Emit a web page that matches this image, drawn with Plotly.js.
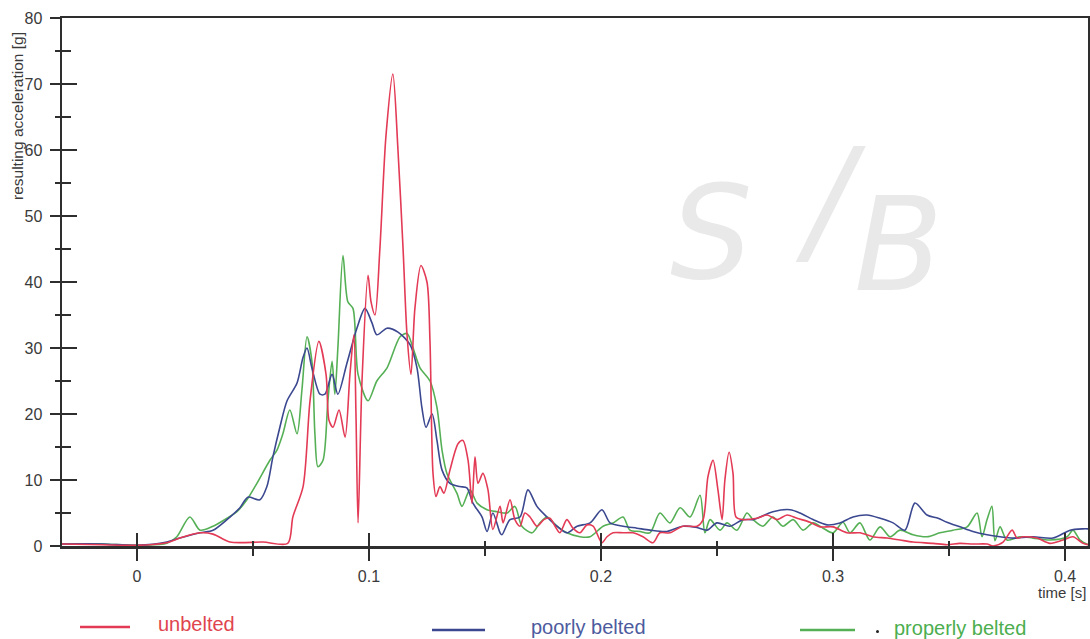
<!DOCTYPE html>
<html>
<head>
<meta charset="utf-8">
<script src="https://cdn.plot.ly/plotly-3.0.1.min.js"></script>
<style>
html,body{margin:0;padding:0;background:#fff;}
#chart{width:1090px;height:639px;}
</style>
</head>
<body>
<div id="chart"></div>
<script>
// ---- data (time in s, resulting acceleration in g) ----
const seriesNames = ["unbelted", "poorly belted", "properly belted"];
const seriesColors = ["#e33a55", "#3b4890", "#55b055"];
const legendTextColors = ["#e0454f", "#4d5b9e", "#4cae4f"];

const tUnbelted = [-0.0323,-0.015,0,0.0129,0.0185,0.0272,0.0328,0.0401,0.0543,0.065,0.0672,0.0716,0.0746,0.0784,0.0815,0.0828,0.0845,0.0871,0.0897,0.0918,0.0935,0.0944,0.0953,0.097,0.0996,0.1009,0.1026,0.1047,0.1073,0.1103,0.1125,0.1147,0.1164,0.1181,0.1198,0.1224,0.125,0.1263,0.1276,0.1289,0.1306,0.1323,0.1349,0.1384,0.1405,0.1427,0.1444,0.1457,0.147,0.1491,0.1513,0.1534,0.1565,0.1578,0.1608,0.1629,0.1651,0.1672,0.1694,0.1724,0.1754,0.178,0.1802,0.1823,0.1853,0.1879,0.1909,0.194,0.1966,0.2004,0.2026,0.2052,0.2095,0.2138,0.2181,0.2224,0.2254,0.2297,0.2353,0.2414,0.244,0.2461,0.2483,0.2504,0.2522,0.2534,0.2552,0.2569,0.2582,0.2612,0.2672,0.2716,0.2759,0.2802,0.2845,0.2901,0.2944,0.3,0.306,0.3116,0.3172,0.3233,0.3289,0.3345,0.3431,0.3491,0.3547,0.3603,0.3664,0.369,0.3733,0.3772,0.3793,0.3819,0.3879,0.3935,0.3991,0.4034,0.4078,0.4099];
const gUnbelted = [0.3,0.2,0.1,0.5,1.2,2,1.8,0.6,0.6,0.4,4.4,9,22,31,26,19,18,20.6,16.5,26,32,20,3.5,25,41,37,35,45,62,71.5,60,45,32,26,36,42.5,40,31,11,7.5,9,8,11.5,15.5,16,13,6.5,13.5,9.5,11,8.5,2.5,6,3.5,7,4,3,5,4.4,3,4,4.2,3,2,4,2.7,2,3.2,3,0.5,1.4,2,2,2,1.4,0.5,2,2,3,3,4,10.5,13,8.5,4,10,14.2,11,4.4,4,4.2,4.7,4,4.7,4.2,3.6,2.9,2.9,2,2,1.4,1.2,0.9,0.6,0.4,0.2,0.4,0.3,0.3,0,0.6,2.4,1.2,1.4,1.2,0.4,0.9,1.4,0.4,0.2];

const tPoorly = [-0.0323,-0.015,0,0.0129,0.0185,0.0272,0.0328,0.0388,0.0444,0.0478,0.053,0.056,0.0586,0.0616,0.0647,0.069,0.0716,0.0733,0.0754,0.0789,0.081,0.0841,0.0866,0.0905,0.0948,0.0983,0.1013,0.1034,0.1078,0.1125,0.1177,0.1207,0.1228,0.1246,0.1272,0.1293,0.1315,0.1349,0.1392,0.1422,0.1448,0.1487,0.1509,0.1534,0.1565,0.1573,0.1608,0.1651,0.1685,0.1724,0.1767,0.181,0.1853,0.1897,0.1953,0.2004,0.2039,0.2095,0.2155,0.2211,0.2284,0.2353,0.2414,0.2457,0.25,0.2556,0.2612,0.2655,0.2741,0.2815,0.2858,0.2914,0.2974,0.303,0.3086,0.3147,0.3203,0.3259,0.331,0.3353,0.3405,0.3453,0.3491,0.3547,0.3603,0.3664,0.372,0.3776,0.3862,0.3948,0.4022,0.4078,0.4099];
const gPoorly = [0.3,0.3,0.1,0.6,1.2,2,2.4,4,5.8,7.4,7,9,13.5,18,22,24.7,28.6,30,27,23,23,26,23,27.7,33,36,33.8,32,33,32.4,30.5,27,21,18,20,16,11.5,9.5,9,8.8,6.5,4.4,2.2,5,2,1.7,4,4.4,8.5,6,4.4,3,2,3,3.5,5.5,3.5,3,2.7,2.4,2.2,3,2.8,2.4,3.5,3,4,4,5.2,5.5,5,4,3.2,3.5,4.4,4.7,4.2,3.5,2.4,6.5,4.7,4.2,3.6,2.9,2.2,1.7,1.4,1.2,1.4,1.2,2.4,2.6,2.6];

const tProperly = [-0.0323,-0.015,0,0.0129,0.0172,0.0228,0.0272,0.0328,0.0388,0.0431,0.0474,0.0517,0.0573,0.0603,0.0629,0.0659,0.069,0.0711,0.0733,0.0754,0.0767,0.078,0.0802,0.0823,0.0841,0.0853,0.0866,0.0888,0.0909,0.0931,0.0953,0.0996,0.1034,0.1078,0.1134,0.1164,0.119,0.122,0.1263,0.1293,0.1315,0.1336,0.1379,0.1401,0.1435,0.1466,0.1509,0.1552,0.1595,0.1629,0.1659,0.1703,0.1737,0.1767,0.181,0.1853,0.1909,0.1953,0.2009,0.2052,0.2095,0.2125,0.2168,0.2211,0.2254,0.2297,0.2341,0.2384,0.2427,0.2448,0.247,0.2513,0.2543,0.2586,0.2629,0.2655,0.2698,0.2741,0.2784,0.2828,0.2871,0.2914,0.2957,0.3,0.3043,0.3073,0.3116,0.3159,0.3203,0.3246,0.3289,0.3345,0.3405,0.3461,0.3517,0.3578,0.3621,0.3642,0.3664,0.3685,0.3698,0.372,0.375,0.3806,0.3862,0.3935,0.4009,0.4034,0.4065,0.4099];
const gProperly = [0.3,0.3,0.1,0.4,1.4,4.4,2.4,3,4.2,5.2,7,9.5,13,14.5,17,20.6,17,23.6,31.7,28,17,12,13,22,28,23,30,44,37,36,26,22,25,27,31.7,32.2,30,27,25,21,14.5,11,8,6,8.5,6.5,5.5,5.2,5,6,3,2,3.5,4.4,3,2,1.4,1.4,3,3.5,4.4,2.4,2.2,2,5,3.5,5.8,4.4,7.7,2,4,2.4,3.5,2.4,5,4,3,4.4,3,4,2.4,3.5,2.7,2,3.6,2,3.5,0.9,2.9,1.4,2.4,1.7,1.4,2,2.4,2.9,5,1.4,4,6,0.8,2.9,0.9,1.4,1.2,0.9,1.4,2.4,0.9,0.2];

const xTickVals = [0, 0.1, 0.2, 0.3, 0.4];
const xTickText = ["0", "0.1", "0.2", "0.3", "0.4"];
const yTickVals = [0, 10, 20, 30, 40, 50, 60, 70, 80];
const xTitle = "time [s]";
const yTitle = "resulting acceleration [g]";
const logoParts = ["S", "/", "B"];

// ---- layout geometry ----
const W = 1090, H = 639;
const M = {l: 62, r: 2, t: 18, b: 93};
const plotW = W - M.l - M.r, plotH = H - M.t - M.b;
const px = x => (x - M.l) / plotW;           // pixel -> paper x
const py = y => (H - M.b - y) / plotH;        // pixel -> paper y
const xRange = [-0.0323, 0.4099];
const yRange = [0, 80];

const tArr = [tUnbelted, tPoorly, tProperly];
const gArr = [gUnbelted, gPoorly, gProperly];

const traces = tArr.map((t, i) => ({
  type: "scatter", mode: "lines", x: t, y: gArr[i], name: seriesNames[i],
  line: {color: seriesColors[i], width: 1.6, shape: "spline", smoothing: 0.8},
  hoverinfo: "x+y+name"
}));
const ordered = [traces[2], traces[1], traces[0]];
// helper trace so the overlay axes (inner tick halves) are drawn
ordered.push({type: "scatter", mode: "lines", x: [], y: [], xaxis: "x2", yaxis: "y2", showlegend: false, hoverinfo: "skip"});

const axisColor = "#2e2e2e";
const FONT = "Liberation Sans, Arial, sans-serif";
const tickFont = {family: FONT, size: 16, color: "#3a3a3a"};

// legend built from the series names
const legendLine = [[80, 130, 627], [432, 485, 630], [800, 855, 630]];
const legendText = [[156, 624], [529, 627], [892, 628]];
const shapes = [];
const annotations = [];
seriesNames.forEach((n, i) => {
  shapes.push({type: "line", xref: "paper", yref: "paper",
    x0: px(legendLine[i][0]), x1: px(legendLine[i][1]),
    y0: py(legendLine[i][2]), y1: py(legendLine[i][2]),
    line: {color: seriesColors[i], width: 2.5}});
  annotations.push({xref: "paper", yref: "paper", x: px(legendText[i][0]), y: py(legendText[i][1]),
    xanchor: "left", yanchor: "middle", showarrow: false, text: n,
    font: {family: FONT, size: 20, color: legendTextColors[i]}});
});
// small dot in front of the last legend label
shapes.push({type: "circle", xref: "paper", yref: "paper",
  x0: px(876), x1: px(879), y0: py(630), y1: py(633), fillcolor: "#222", line: {width: 0}});

// axis titles
annotations.push({xref: "paper", yref: "paper", x: px(1088), y: py(592), xanchor: "right", yanchor: "middle",
  showarrow: false, text: xTitle, font: {family: FONT, size: 15, color: "#3a3a3a"}});
annotations.push({xref: "paper", yref: "paper", x: px(18), y: py(116), xanchor: "center", yanchor: "middle",
  textangle: -90, showarrow: false, text: yTitle, font: {family: FONT, size: 15.5, color: "#3a3a3a"}});

// watermark logo
const logoPos = [[755, 155, 130], [868, 200, 140], [945, 245, 130]];
logoParts.forEach((p, i) => {
  annotations.push({xref: "paper", yref: "paper", x: px(logoPos[i][0]), y: py(logoPos[i][1]), showarrow: false,
    text: "<i>" + p + "</i>", font: {family: "DejaVu Sans, sans-serif", size: logoPos[i][2], color: "#e9e9e9"}});
});

const layout = {
  width: W, height: H,
  margin: M,
  paper_bgcolor: "#ffffff", plot_bgcolor: "#ffffff",
  showlegend: false,
  xaxis: {
    range: xRange, showgrid: false, zeroline: false,
    showline: true, linecolor: axisColor, linewidth: 2.5, mirror: true,
    tickmode: "array", tickvals: xTickVals, ticktext: xTickText,
    ticks: "outside", ticklen: 12, tickwidth: 2, tickcolor: axisColor,
    minor: {dtick: 0.05, tick0: 0, ticks: "outside", ticklen: 7, tickwidth: 2, tickcolor: axisColor},
    tickfont: tickFont, ticklabelstandoff: 2
  },
  yaxis: {
    range: yRange, showgrid: false, zeroline: false,
    showline: true, linecolor: axisColor, linewidth: 2.5, mirror: true,
    tickmode: "array", tickvals: yTickVals,
    ticks: "outside", ticklen: 10, tickwidth: 2, tickcolor: axisColor,
    minor: {dtick: 5, tick0: 0, ticks: "outside", ticklen: 5, tickwidth: 2, tickcolor: axisColor},
    tickfont: tickFont, ticklabelstandoff: 4
  },
  xaxis2: {
    overlaying: "x", range: xRange, showgrid: false, zeroline: false, showline: false,
    tickmode: "array", tickvals: xTickVals, showticklabels: false,
    ticks: "inside", ticklen: 13, tickwidth: 2, tickcolor: axisColor,
    minor: {dtick: 0.05, tick0: 0, ticks: "inside", ticklen: 5, tickwidth: 2, tickcolor: axisColor}
  },
  yaxis2: {
    overlaying: "y", range: yRange, showgrid: false, zeroline: false, showline: false,
    tickmode: "array", tickvals: yTickVals, showticklabels: false,
    ticks: "inside", ticklen: 15, tickwidth: 2, tickcolor: axisColor,
    minor: {dtick: 5, tick0: 0, ticks: "inside", ticklen: 9, tickwidth: 2, tickcolor: axisColor}
  },
  shapes: shapes,
  annotations: annotations
};

Plotly.newPlot("chart", ordered, layout, {displayModeBar: false, staticPlot: true});
</script>
</body>
</html>
